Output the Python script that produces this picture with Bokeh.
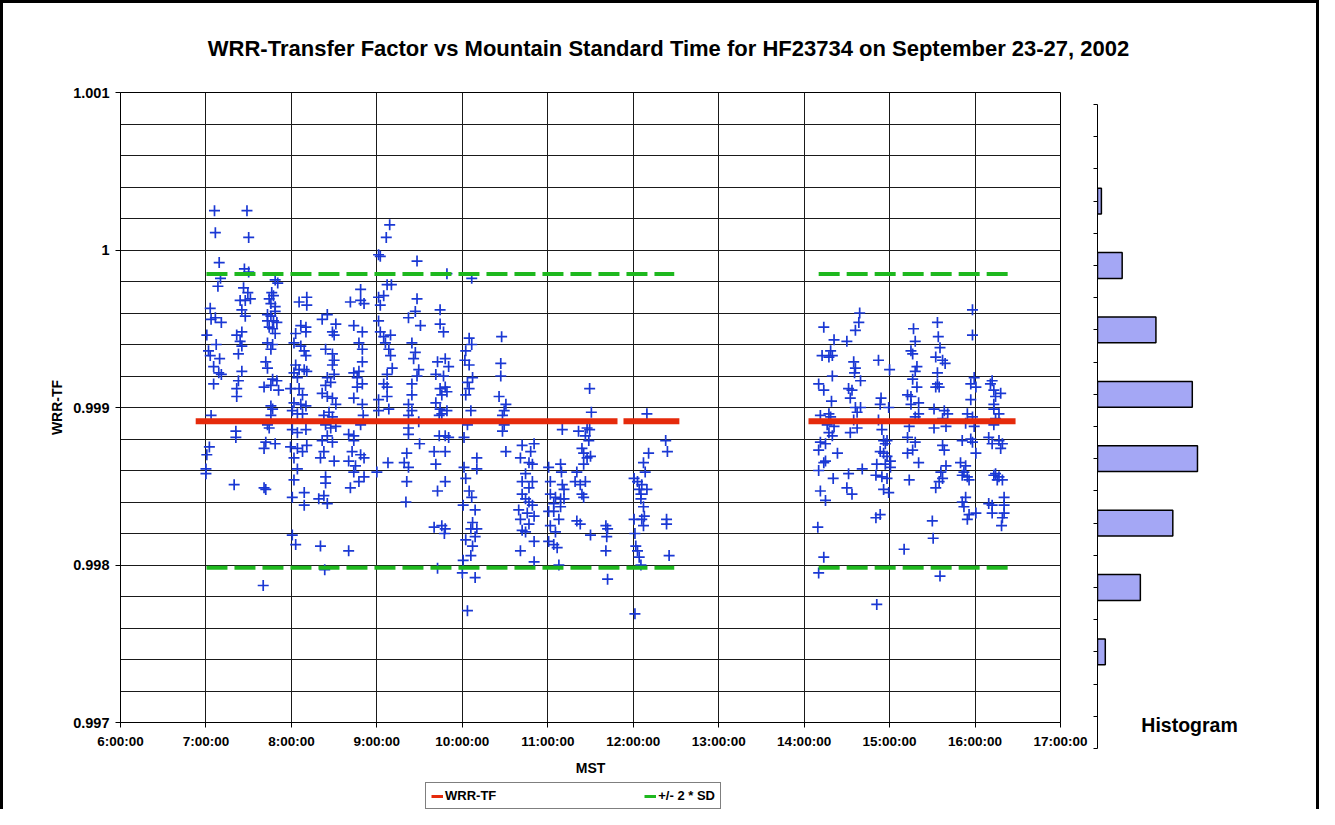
import math
from bokeh.plotting import figure
from bokeh.models import (FixedTicker, Range1d, Legend, LegendItem, Label,
                          CustomJSTickFormatter)
from bokeh.layouts import column, row
from bokeh.embed import file_html
from bokeh.resources import INLINE

TITLE = "WRR-Transfer Factor vs Mountain Standard Time for HF23734 on September 23-27, 2002"
X_TITLE = "MST"
Y_TITLE = "WRR-TF"
HIST_TITLE = "Histogram"
LEGEND_LABELS = ["WRR-TF", "+/- 2 * SD"]

hour_ticks = [6, 7, 8, 9, 10, 11, 12, 13, 14, 15, 16, 17]
hour_labels = ["6:00:00", "7:00:00", "8:00:00", "9:00:00", "10:00:00", "11:00:00",
               "12:00:00", "13:00:00", "14:00:00", "15:00:00", "16:00:00", "17:00:00"]
y_ticks = [0.997, 0.998, 0.999, 1.0, 1.001]
y_labels = ["0.997", "0.998", "0.999", "1", "1.001"]

# mean and +/- 2 SD levels
wrr_tf_mean = 0.998913
sd2_upper = 0.999848
sd2_lower = 0.997982
# measurement periods (hours MST) for the level lines
wrr_tf_periods = [(6.88, 11.816), (11.886, 12.54), (14.051, 16.474)]
sd_periods = [(7.006, 12.48), (14.17, 16.415)]

# histogram (top bin to bottom bin)
hist_counts = [0, 3, 19, 45, 73, 77, 58, 33, 6, 0]

# measurements: (hour MST, WRR-TF)
c0700 = [(7.10, 1.00025), (7.11, 1.00011), (7.155, 0.99992), (7.14, 0.99977), (7.17, 0.99982),
         (7.05, 0.99963), (7.06, 0.99956), (7.11, 0.99957), (7.18, 0.99954), (7.01, 0.99946),
         (7.12, 0.99940), (7.03, 0.99936), (7.05, 0.99933), (7.16, 0.99931), (7.09, 0.99926),
         (7.15, 0.99922), (7.18, 0.99921), (7.09, 0.99915), (7.06, 0.99895), (7.04, 0.99875),
         (7.01, 0.99870), (7.00, 0.99861), (7.00, 0.99858)]
c0725 = [(7.48, 1.00025), (7.50, 1.00008), (7.45, 0.99988), (7.50, 0.99986), (7.44, 0.99976),
         (7.49, 0.99973), (7.46, 0.99968), (7.52, 0.99969), (7.40, 0.99968), (7.42, 0.99962),
         (7.46, 0.99958), (7.42, 0.99948), (7.36, 0.99946), (7.40, 0.99942), (7.42, 0.99939),
         (7.38, 0.99934), (7.42, 0.99923), (7.38, 0.99917), (7.36, 0.99912), (7.36, 0.99907),
         (7.35, 0.99885), (7.35, 0.99881), (7.33, 0.99851)]
c0740 = [(7.81, 0.99981), (7.84, 0.99979), (7.77, 0.99973), (7.79, 0.99971), (7.74, 0.99969),
         (7.76, 0.99966), (7.81, 0.99964), (7.72, 0.99959), (7.76, 0.99958), (7.81, 0.99961),
         (7.72, 0.99955), (7.79, 0.99955), (7.83, 0.99954), (7.74, 0.99951), (7.78, 0.99950),
         (7.81, 0.99947), (7.72, 0.99941), (7.78, 0.99940), (7.76, 0.99937), (7.70, 0.99929),
         (7.72, 0.99925), (7.78, 0.99918), (7.83, 0.99917), (7.76, 0.99914), (7.68, 0.99913),
         (7.85, 0.99911), (7.76, 0.99901), (7.78, 0.99899), (7.76, 0.99895), (7.72, 0.99889),
         (7.74, 0.99887), (7.70, 0.99878), (7.68, 0.99874), (7.81, 0.99877), (7.68, 0.99849),
         (7.70, 0.99848), (7.67, 0.99787)]
c0800 = [(8.09, 0.99967), (8.18, 0.99970), (8.18, 0.99965), (8.11, 0.99952), (8.17, 0.99951),
         (8.05, 0.99947), (8.17, 0.99948), (8.03, 0.99941), (8.11, 0.99939), (8.15, 0.99936),
         (8.17, 0.99933), (8.05, 0.99927), (8.09, 0.99924), (8.15, 0.99924), (8.18, 0.99923),
         (8.03, 0.99922), (8.07, 0.99919), (7.99, 0.99912), (8.09, 0.99912), (8.13, 0.99908),
         (8.03, 0.99903), (8.11, 0.99902), (8.17, 0.99901), (8.01, 0.99898), (8.07, 0.99896),
         (8.13, 0.99896), (8.01, 0.99886), (8.07, 0.99884), (8.17, 0.99886), (7.99, 0.99875),
         (8.07, 0.99874), (8.13, 0.99872), (8.18, 0.99876), (8.03, 0.99868), (8.07, 0.99861),
         (8.03, 0.99854), (8.01, 0.99843), (8.15, 0.99846), (8.15, 0.99838), (8.01, 0.99819),
         (8.05, 0.99813)]
c0820 = [(8.42, 0.99959), (8.36, 0.99956), (8.52, 0.99953), (8.48, 0.99948), (8.50, 0.99946),
         (8.40, 0.99937), (8.48, 0.99934), (8.50, 0.99930), (8.48, 0.99927), (8.50, 0.99921),
         (8.42, 0.99919), (8.40, 0.99914), (8.46, 0.99916), (8.36, 0.99909), (8.42, 0.99907),
         (8.48, 0.99906), (8.52, 0.99902), (8.44, 0.99897), (8.38, 0.99895), (8.48, 0.99894),
         (8.40, 0.99889), (8.46, 0.99887), (8.52, 0.99888), (8.36, 0.99879), (8.42, 0.99882),
         (8.48, 0.99878), (8.38, 0.99872), (8.34, 0.99868), (8.50, 0.99866), (8.40, 0.99856),
         (8.40, 0.99852), (8.38, 0.99844), (8.32, 0.99842), (8.42, 0.99839), (8.34, 0.99812),
         (8.39, 0.99797)]
c0840 = [(8.81, 0.99975), (8.69, 0.99967), (8.81, 0.99968), (8.85, 0.99966), (8.73, 0.99952),
         (8.83, 0.99948), (8.79, 0.99941), (8.83, 0.99937), (8.83, 0.99929), (8.73, 0.99922),
         (8.79, 0.99923), (8.77, 0.99919), (8.77, 0.99913), (8.83, 0.99915), (8.73, 0.99906),
         (8.83, 0.99902), (8.84, 0.99895), (8.81, 0.99889), (8.67, 0.99883), (8.73, 0.99882),
         (8.73, 0.99879), (8.71, 0.99872), (8.81, 0.99870), (8.85, 0.99868), (8.67, 0.99866),
         (8.75, 0.99863), (8.73, 0.99859), (8.85, 0.99856), (8.79, 0.99853), (8.69, 0.99849),
         (8.67, 0.99809)]
c0900 = [(9.15, 1.00016), (9.11, 1.00008), (9.02, 0.99997), (9.04, 0.99996), (9.12, 0.99978),
         (9.17, 0.99978), (9.02, 0.99970), (9.08, 0.99971), (9.04, 0.99965), (9.02, 0.99955),
         (9.04, 0.99948), (9.08, 0.99945), (9.16, 0.99946), (9.10, 0.99941), (9.14, 0.99937),
         (9.16, 0.99933), (9.18, 0.99925), (9.12, 0.99921), (9.08, 0.99915), (9.12, 0.99913),
         (9.12, 0.99907), (9.02, 0.99905), (9.02, 0.99898), (9.14, 0.99899), (9.13, 0.99865),
         (9.00, 0.99859)]
c0920 = [(9.47, 0.99993), (9.47, 0.99969), (9.37, 0.99957), (9.45, 0.99961), (9.51, 0.99952),
         (9.41, 0.99941), (9.45, 0.99935), (9.43, 0.99931), (9.49, 0.99924), (9.47, 0.99920),
         (9.41, 0.99915), (9.41, 0.99908), (9.37, 0.99902), (9.41, 0.99898), (9.37, 0.99895),
         (9.49, 0.99891), (9.37, 0.99887), (9.37, 0.99883), (9.50, 0.99877), (9.35, 0.99871),
         (9.32, 0.99865), (9.37, 0.99862), (9.35, 0.99853), (9.34, 0.99840)]
c0940 = [(9.82, 0.99985), (9.74, 0.99962), (9.74, 0.99953), (9.78, 0.99948), (9.71, 0.99929),
         (9.80, 0.99931), (9.84, 0.99926), (9.69, 0.99921), (9.78, 0.99920), (9.74, 0.99912),
         (9.80, 0.99913), (9.76, 0.99908), (9.82, 0.99910), (9.69, 0.99903), (9.74, 0.99899),
         (9.82, 0.99898), (9.73, 0.99895), (9.76, 0.99896), (9.73, 0.99882), (9.80, 0.99882),
         (9.84, 0.99881), (9.67, 0.99872), (9.80, 0.99872), (9.69, 0.99864), (9.80, 0.99853),
         (9.71, 0.99847), (9.67, 0.99824), (9.76, 0.99825), (9.80, 0.99823), (9.79, 0.99820),
         (9.71, 0.99798)]
c1000 = [(10.11, 0.99982), (10.08, 0.99944), (10.11, 0.99940), (10.04, 0.99936), (10.03, 0.99930),
         (10.08, 0.99927), (10.12, 0.99919), (10.06, 0.99916), (10.08, 0.99912), (10.04, 0.99908),
         (10.10, 0.99898), (10.06, 0.99889), (10.02, 0.99881), (10.17, 0.99868), (10.02, 0.99862),
         (10.17, 0.99861), (10.04, 0.99855), (10.08, 0.99847), (10.11, 0.99843), (10.01, 0.99838),
         (10.15, 0.99835), (10.12, 0.99827), (10.10, 0.99823), (10.17, 0.99823), (10.15, 0.99818),
         (10.04, 0.99816), (10.12, 0.99812), (10.10, 0.99806), (10.01, 0.99803), (10.00, 0.99795),
         (10.15, 0.99792), (10.06, 0.99771)]
c1025 = [(10.46, 0.99945), (10.45, 0.99928), (10.45, 0.99920), (10.43, 0.99907), (10.51, 0.99902),
         (10.49, 0.99898), (10.47, 0.99895), (10.49, 0.99889), (10.47, 0.99885), (10.51, 0.99872)]
c1040 = [(10.70, 0.99876), (10.84, 0.99877), (10.80, 0.99872), (10.68, 0.99868), (10.78, 0.99865),
         (10.82, 0.99864), (10.74, 0.99858), (10.70, 0.99853), (10.82, 0.99853), (10.78, 0.99849),
         (10.70, 0.99845), (10.74, 0.99842), (10.78, 0.99840), (10.82, 0.99838), (10.66, 0.99835),
         (10.76, 0.99833), (10.84, 0.99831), (10.68, 0.99829), (10.78, 0.99826), (10.70, 0.99822),
         (10.74, 0.99821), (10.84, 0.99815), (10.68, 0.99809), (10.84, 0.99802)]
c1100 = [(11.01, 0.99862), (11.15, 0.99864), (11.16, 0.99859), (11.03, 0.99853), (11.17, 0.99851),
         (11.19, 0.99848), (11.03, 0.99845), (11.09, 0.99843), (11.15, 0.99842), (11.19, 0.99842),
         (11.07, 0.99839), (11.15, 0.99837), (11.01, 0.99834), (11.07, 0.99834), (11.13, 0.99829),
         (11.03, 0.99825), (11.09, 0.99821), (11.01, 0.99815), (11.07, 0.99813), (11.11, 0.99811),
         (11.13, 0.99800), (11.17, 0.99886)]
c1120 = [(11.49, 0.99912), (11.51, 0.99897), (11.36, 0.99885), (11.46, 0.99887), (11.49, 0.99886),
         (11.44, 0.99882), (11.48, 0.99879), (11.40, 0.99874), (11.42, 0.99871), (11.50, 0.99869),
         (11.46, 0.99868), (11.42, 0.99864), (11.34, 0.99859), (11.32, 0.99853), (11.38, 0.99851),
         (11.44, 0.99853), (11.40, 0.99845), (11.42, 0.99843), (11.34, 0.99828), (11.38, 0.99826),
         (11.50, 0.99819)]
c1140 = [(11.68, 0.99825), (11.70, 0.99823), (11.69, 0.99818), (11.68, 0.99809), (11.70, 0.99791)]
c1200 = [(12.16, 0.99896), (12.01, 0.99855), (12.05, 0.99853), (12.10, 0.99851), (12.16, 0.99848),
         (12.07, 0.99848), (12.09, 0.99845), (12.09, 0.99842), (12.12, 0.99837), (12.13, 0.99831),
         (12.10, 0.99829), (12.01, 0.99829), (12.12, 0.99825), (12.02, 0.99820), (12.03, 0.99812),
         (12.05, 0.99809), (12.07, 0.99805), (12.09, 0.99800), (12.02, 0.99769), (12.12, 0.99865),
         (12.14, 0.99859), (12.18, 0.99871)]
c1220 = [(12.38, 0.99879), (12.40, 0.99872), (12.39, 0.99829), (12.39, 0.99826), (12.42, 0.99806)]
pm_a = [(14.65, 0.99960), (14.64, 0.99954), (14.60, 0.99949), (14.23, 0.99951), (14.35, 0.99943),
        (14.50, 0.99942), (14.31, 0.99936), (14.21, 0.99933), (14.29, 0.99932), (14.33, 0.99933),
        (14.58, 0.99929), (14.60, 0.99925), (14.87, 0.99930), (15.00, 0.99924), (14.59, 0.99922),
        (14.33, 0.99920), (14.66, 0.99917), (14.17, 0.99915), (14.23, 0.99911), (14.52, 0.99912),
        (14.56, 0.99911), (14.54, 0.99906), (14.32, 0.99904), (14.90, 0.99906), (14.89, 0.99902),
        (14.99, 0.99900), (14.60, 0.99900), (14.66, 0.99900), (14.62, 0.99897), (14.19, 0.99895),
        (14.29, 0.99896), (14.31, 0.99894), (14.87, 0.99892), (14.58, 0.99892), (14.27, 0.99889),
        (14.35, 0.99888), (14.29, 0.99884), (14.62, 0.99887), (14.54, 0.99884), (14.33, 0.99882),
        (14.91, 0.99886), (14.19, 0.99878), (14.25, 0.99877), (14.17, 0.99873), (14.93, 0.99879),
        (14.95, 0.99877), (14.97, 0.99879), (14.39, 0.99871), (14.25, 0.99866), (14.23, 0.99865),
        (14.17, 0.99860), (14.89, 0.99872), (14.93, 0.99871), (14.97, 0.99869), (15.01, 0.99866),
        (14.95, 0.99864), (14.85, 0.99864), (15.01, 0.99862), (14.68, 0.99861), (14.52, 0.99858),
        (14.34, 0.99855), (14.84, 0.99857), (14.91, 0.99856), (14.97, 0.99855), (14.19, 0.99847),
        (14.25, 0.99841), (14.50, 0.99849), (14.56, 0.99845), (14.93, 0.99848), (14.99, 0.99846),
        (14.89, 0.99832), (14.84, 0.99830), (14.16, 0.99824), (14.23, 0.99805), (14.17, 0.99795),
        (15.17, 0.99810), (14.85, 0.99775)]
pm_b = [(15.28, 0.99950), (15.30, 0.99942), (15.25, 0.99936), (15.27, 0.99934), (15.56, 0.99954),
        (15.57, 0.99945), (15.59, 0.99938), (15.54, 0.99932), (15.62, 0.99930), (15.65, 0.99928),
        (15.97, 0.99962), (15.97, 0.99946), (15.32, 0.99926), (15.30, 0.99923), (15.56, 0.99922),
        (15.27, 0.99918), (15.32, 0.99913), (15.56, 0.99915), (15.58, 0.99913), (15.54, 0.99913),
        (15.21, 0.99908), (15.25, 0.99907), (15.34, 0.99903), (15.25, 0.99902), (15.99, 0.99919),
        (15.95, 0.99915), (16.01, 0.99913), (15.95, 0.99905), (16.20, 0.99917), (16.18, 0.99915),
        (16.22, 0.99911), (16.30, 0.99909), (16.24, 0.99907), (16.22, 0.99902), (15.52, 0.99899),
        (15.64, 0.99898), (15.68, 0.99896), (15.62, 0.99893), (15.91, 0.99896), (15.97, 0.99894),
        (15.34, 0.99896), (15.30, 0.99894), (16.22, 0.99899), (16.28, 0.99896), (16.24, 0.99893),
        (15.23, 0.99888), (15.52, 0.99887), (15.66, 0.99888), (15.89, 0.99890), (15.99, 0.99888),
        (16.22, 0.99889), (15.21, 0.99881), (15.30, 0.99878), (15.27, 0.99873), (15.21, 0.99871),
        (15.62, 0.99876), (15.64, 0.99873), (15.85, 0.99879), (15.95, 0.99880), (15.97, 0.99878),
        (16.16, 0.99881), (16.20, 0.99877), (16.28, 0.99879), (16.32, 0.99877), (16.30, 0.99874),
        (16.01, 0.99871), (15.34, 0.99865), (15.66, 0.99863), (15.60, 0.99859), (15.83, 0.99865),
        (15.89, 0.99863), (15.87, 0.99859), (15.91, 0.99856), (15.85, 0.99857), (15.93, 0.99854),
        (16.24, 0.99858), (16.28, 0.99856), (16.22, 0.99857), (16.32, 0.99854), (16.26, 0.99854),
        (15.23, 0.99854), (15.62, 0.99855), (15.58, 0.99853), (15.54, 0.99849), (15.89, 0.99843),
        (15.85, 0.99840), (15.87, 0.99837), (16.16, 0.99839), (16.20, 0.99838), (16.34, 0.99843),
        (16.34, 0.99838), (16.34, 0.99833), (16.32, 0.99830), (15.93, 0.99832), (16.01, 0.99833),
        (15.91, 0.99829), (16.20, 0.99833), (16.31, 0.99825), (15.50, 0.99828), (15.51, 0.99817),
        (15.59, 0.99793)]

clusters = [c0700, c0725, c0740, c0800, c0820, c0840, c0900, c0920, c0940, c1000,
            c1025, c1040, c1100, c1120, c1140, c1200, c1220, pm_a, pm_b]
pts_t = [t for c in clusters for t, v in c]
pts_v = [v for c in clusters for t, v in c]


def level_line(periods, level):
    xs, ys = [], []
    for i, (a, b) in enumerate(periods):
        if i:
            xs.append(math.nan)
            ys.append(math.nan)
        xs += [a, b]
        ys += [level, level]
    return xs, ys


FONT = "Liberation Sans"
BLUE = "#1a38d4"
RED = "#e52a0b"
GREEN = "#1eb81e"

LOOKUP = """
    let best = 0;
    for (let i = 0; i < tv.length; i++) {
        if (Math.abs(tv[i] - tick) < Math.abs(tv[best] - tick)) best = i;
    }
    return tl[best];
"""


def no_frame_align(fig):
    if "frame_align" in fig.properties():
        fig.frame_align = False


# ---------------- title strip ----------------
t = figure(width=1313, height=75, x_range=Range1d(0, 1), y_range=Range1d(0, 1),
           x_axis_type=None, y_axis_type=None, toolbar_location=None, title=None,
           output_backend="svg", min_border=0)
t.grid.visible = False
t.outline_line_color = None
t.add_layout(Label(x=0.5065, y=0.40, text=TITLE, text_align="center", text_baseline="middle",
                   text_font=FONT, text_font_style="bold", text_font_size="22px",
                   text_color="black"))
no_frame_align(t)

# ---------------- main chart ----------------
p = figure(width=1090, height=702, x_range=Range1d(6, 17), y_range=Range1d(0.997, 1.001),
           toolbar_location=None, output_backend="svg", title=None,
           min_border_left=117, min_border_right=33, min_border_top=14, min_border_bottom=58)
no_frame_align(p)
p.outline_line_color = "black"
p.outline_line_width = 1

p.xaxis.ticker = FixedTicker(ticks=hour_ticks, minor_ticks=[])
p.xaxis.formatter = CustomJSTickFormatter(args=dict(tv=hour_ticks, tl=hour_labels), code=LOOKUP)
p.yaxis.ticker = FixedTicker(ticks=y_ticks, minor_ticks=[])
p.yaxis.formatter = CustomJSTickFormatter(args=dict(tv=y_ticks, tl=y_labels), code=LOOKUP)
for ax in (p.xaxis[0], p.yaxis[0]):
    ax.major_tick_out = 5
    ax.major_tick_in = 0
    ax.minor_tick_out = 0
    ax.minor_tick_in = 0
    ax.axis_line_color = "black"
    ax.major_tick_line_color = "black"
    ax.major_label_text_font = FONT
    ax.major_label_text_font_style = "bold"
    ax.major_label_text_color = "black"
    ax.axis_label_text_font = FONT
    ax.axis_label_text_font_style = "bold"
    ax.axis_label_text_font_size = "14px"
    ax.axis_label_text_color = "black"
p.xaxis.major_label_text_font_size = "13.5px"
p.yaxis.major_label_text_font_size = "14.5px"
p.xaxis.axis_label = X_TITLE
p.yaxis.axis_label = Y_TITLE
p.xaxis.major_label_standoff = 6
p.xaxis.axis_label_standoff = 8
p.yaxis.major_label_standoff = 6
p.yaxis.axis_label_standoff = 5

p.xgrid.ticker = FixedTicker(ticks=hour_ticks)
p.ygrid.ticker = FixedTicker(ticks=[0.997 + 0.0002 * i for i in range(21)])
for g in (p.xgrid[0], p.ygrid[0]):
    g.grid_line_color = "#1a1a1a"
    g.grid_line_width = 1

p.scatter(pts_t, pts_v, marker="cross", size=11, line_width=1.7, color=BLUE)

rx, ry = level_line(wrr_tf_periods, wrr_tf_mean)
p.line(rx, ry, line_width=6, color=RED)
ux, uy = level_line(sd_periods, sd2_upper)
lx, ly = level_line(sd_periods, sd2_lower)
p.line(ux, uy, line_width=4, color=GREEN, line_dash="21 7")
p.line(lx, ly, line_width=4, color=GREEN, line_dash="21 7")

# ---------------- legend strip (below the chart) ----------------
lg = figure(width=1090, height=29, x_range=Range1d(0, 1), y_range=Range1d(0, 1),
            x_axis_type=None, y_axis_type=None, toolbar_location=None, title=None,
            output_backend="svg", min_border=0)
no_frame_align(lg)
lg.grid.visible = False
lg.outline_line_color = None
# legend keys only (a single undefined point each, nothing is drawn in the strip)
key_red = lg.line([math.nan], [math.nan], line_width=3, color=RED)
key_green = lg.line([math.nan], [math.nan], line_width=3, color=GREEN)
legend = Legend(items=[LegendItem(label=LEGEND_LABELS[0], renderers=[key_red]),
                       LegendItem(label=LEGEND_LABELS[1], renderers=[key_green])],
                location=(422, 0), orientation="horizontal",
                glyph_width=12, glyph_height=12, label_standoff=2, spacing=148,
                padding=5, margin=0, border_line_color="black", border_line_width=1,
                label_text_font=FONT, label_text_font_style="bold",
                label_text_font_size="13px", label_text_color="black",
                background_fill_color="white", background_fill_alpha=1)
lg.add_layout(legend)

# ---------------- histogram ----------------
n_bins = len(hist_counts)
hist_pos = [n_bins - i - 0.5 for i in range(n_bins)]
hb_pos = [y for y, c in zip(hist_pos, hist_counts) if c > 0]
hb_cnt = [c for c in hist_counts if c > 0]

h = figure(width=223, height=731, x_range=Range1d(0, 162.5), y_range=Range1d(0, n_bins),
           x_axis_type=None, toolbar_location=None, output_backend="svg", title=None,
           min_border_left=4, min_border_right=8, min_border_top=26, min_border_bottom=61)
no_frame_align(h)
h.grid.visible = False
h.outline_line_color = None
h.yaxis.ticker = FixedTicker(ticks=[i * 0.5 for i in range(2 * n_bins + 1)], minor_ticks=[])
h.yaxis.formatter = CustomJSTickFormatter(code="return ''")
h.yaxis.major_label_standoff = 0
h.yaxis.major_tick_out = 4
h.yaxis.major_tick_in = 0
h.yaxis.minor_tick_out = 0
h.yaxis.axis_line_color = "black"
h.yaxis.major_tick_line_color = "black"
h.hbar(y=hb_pos, right=hb_cnt, left=0, height=0.4, fill_color="#a4a7f5",
       line_color="black", line_width=1.5)
h.add_layout(Label(x=70.9, y=0.36, text=HIST_TITLE, text_align="center", text_baseline="middle",
                   text_font=FONT, text_font_style="bold", text_font_size="19.5px",
                   text_color="black"))

layout = column(t, row(column(p, lg, spacing=0), h, spacing=0), spacing=0,
                styles={"border-top": "3px solid black", "border-left": "3px solid black",
                        "border-right": "3px solid black"})

open("out.html", "w").write(file_html(layout, INLINE))
